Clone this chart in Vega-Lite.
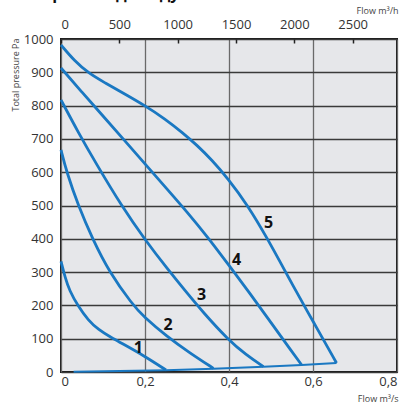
{
  "$schema": "https://vega.github.io/schema/vega-lite/v6.json",
  "width": 336,
  "height": 333,
  "autosize": {"type": "none"},
  "padding": {"left": 61, "top": 39, "right": 11, "bottom": 33},
  "background": "white",
  "config": {
    "font": "Open Sans",
    "view": {"fill": "#e6e7ea", "stroke": "#1a1a1a", "strokeWidth": 2}
  },
  "title": {
    "text": "Напор/Расход воздуха",
    "anchor": "start",
    "frame": "group",
    "dx": -51,
    "fontSize": 16,
    "fontWeight": "bold",
    "font": "Open Sans",
    "color": "#111111"
  },
  "datasets": {
    "curves": [
      {"series": "1", "q": 0.0, "p": 332},
      {"series": "1", "q": 0.01, "p": 283},
      {"series": "1", "q": 0.02, "p": 245},
      {"series": "1", "q": 0.041, "p": 197},
      {"series": "1", "q": 0.065, "p": 155},
      {"series": "1", "q": 0.089, "p": 127},
      {"series": "1", "q": 0.12, "p": 103},
      {"series": "1", "q": 0.145, "p": 86},
      {"series": "1", "q": 0.2, "p": 47},
      {"series": "1", "q": 0.25, "p": 6},
      {"series": "2", "q": 0.0, "p": 667},
      {"series": "2", "q": 0.0135, "p": 600},
      {"series": "2", "q": 0.041, "p": 500},
      {"series": "2", "q": 0.075, "p": 400},
      {"series": "2", "q": 0.115, "p": 300},
      {"series": "2", "q": 0.17, "p": 203},
      {"series": "2", "q": 0.196, "p": 167},
      {"series": "2", "q": 0.252, "p": 107},
      {"series": "2", "q": 0.307, "p": 57},
      {"series": "2", "q": 0.363, "p": 11},
      {"series": "3", "q": 0.0, "p": 817},
      {"series": "3", "q": 0.04, "p": 722},
      {"series": "3", "q": 0.083, "p": 627},
      {"series": "3", "q": 0.145, "p": 497},
      {"series": "3", "q": 0.2, "p": 397},
      {"series": "3", "q": 0.255, "p": 307},
      {"series": "3", "q": 0.295, "p": 245},
      {"series": "3", "q": 0.339, "p": 178},
      {"series": "3", "q": 0.398, "p": 97},
      {"series": "3", "q": 0.44, "p": 52},
      {"series": "3", "q": 0.482, "p": 16},
      {"series": "4", "q": 0.0, "p": 913},
      {"series": "4", "q": 0.05, "p": 840},
      {"series": "4", "q": 0.1, "p": 769},
      {"series": "4", "q": 0.15, "p": 697},
      {"series": "4", "q": 0.2, "p": 625},
      {"series": "4", "q": 0.25, "p": 553},
      {"series": "4", "q": 0.3, "p": 481},
      {"series": "4", "q": 0.35, "p": 404},
      {"series": "4", "q": 0.4, "p": 320},
      {"series": "4", "q": 0.45, "p": 236},
      {"series": "4", "q": 0.5, "p": 148},
      {"series": "4", "q": 0.55, "p": 61},
      {"series": "4", "q": 0.573, "p": 21},
      {"series": "5", "q": 0.0, "p": 982},
      {"series": "5", "q": 0.033, "p": 933},
      {"series": "5", "q": 0.065, "p": 898},
      {"series": "5", "q": 0.105, "p": 868},
      {"series": "5", "q": 0.145, "p": 840},
      {"series": "5", "q": 0.2, "p": 800},
      {"series": "5", "q": 0.248, "p": 760},
      {"series": "5", "q": 0.29, "p": 718},
      {"series": "5", "q": 0.323, "p": 682},
      {"series": "5", "q": 0.359, "p": 637},
      {"series": "5", "q": 0.398, "p": 580},
      {"series": "5", "q": 0.442, "p": 505},
      {"series": "5", "q": 0.49, "p": 405},
      {"series": "5", "q": 0.554, "p": 255},
      {"series": "5", "q": 0.601, "p": 150},
      {"series": "5", "q": 0.656, "p": 27}
    ],
    "system": [
      {"q": 0.03, "p": 1},
      {"q": 0.25, "p": 5},
      {"q": 0.363, "p": 10},
      {"q": 0.482, "p": 16},
      {"q": 0.573, "p": 21},
      {"q": 0.656, "p": 27}
    ],
    "labels": [
      {"label": "1", "q": 0.184, "p": 72},
      {"label": "2", "q": 0.255, "p": 142},
      {"label": "3", "q": 0.335, "p": 232},
      {"label": "4", "q": 0.418, "p": 337},
      {"label": "5", "q": 0.494, "p": 447}
    ],
    "topaxis": [{"qh": 0}, {"qh": 2880}]
  },
  "layer": [
    {
      "data": {"name": "topaxis"},
      "mark": {"type": "point", "opacity": 0},
      "encoding": {
        "x": {
          "field": "qh",
          "type": "quantitative",
          "scale": {"domain": [0, 2880], "nice": false},
          "axis": {
            "orient": "top",
            "values": [0, 500, 1000, 1500, 2000, 2500],
            "format": "d",
            "labelOverlap": false,
            "grid": false,
            "domain": false,
            "ticks": true,
            "tickSize": -4,
            "tickColor": "#222222",
            "tickWidth": 1.5,
            "labelPadding": 12,
            "labelFontSize": 13,
            "labelColor": "#333333",
            "labelFont": "Open Sans",
            "title": "Flow m³/h",
            "titleFont": "Open Sans",
            "titleFontSize": 9,
            "titleFontWeight": "normal",
            "titleColor": "#444444",
            "titleX": 337,
            "titleY": -29,
            "titleAlign": "right",
            "titleBaseline": "middle"
          }
        }
      }
    },
    {
      "encoding": {
        "x": {
          "field": "q",
          "type": "quantitative",
          "scale": {"domain": [0, 0.8], "nice": false},
          "axis": {
            "orient": "bottom",
            "values": [0, 0.2, 0.4, 0.6, 0.8],
            "labelExpr": "replace(format(datum.value, '.1~f'), '.', ',')",
            "labelOverlap": false,
            "grid": true,
            "gridColor": "#6a6a6a",
            "gridWidth": 1.3,
            "domain": false,
            "ticks": false,
            "labelPadding": 3,
            "labelFontSize": 13,
            "labelColor": "#333333",
            "labelFont": "Open Sans",
            "title": "Flow m³/s",
            "titleFont": "Open Sans",
            "titleFontSize": 9,
            "titleFontWeight": "normal",
            "titleColor": "#444444",
            "titleX": 337,
            "titleY": 26,
            "titleAlign": "right",
            "titleBaseline": "middle"
          }
        },
        "y": {
          "field": "p",
          "type": "quantitative",
          "scale": {"domain": [0, 1000], "nice": false},
          "axis": {
            "values": [0, 100, 200, 300, 400, 500, 600, 700, 800, 900, 1000],
            "format": "d",
            "labelOverlap": false,
            "grid": true,
            "gridColor": "#3a3a3a",
            "gridWidth": 1.3,
            "domain": false,
            "ticks": false,
            "labelPadding": 8,
            "labelFontSize": 13,
            "labelColor": "#333333",
            "labelFont": "Open Sans",
            "title": "Total pressure Pa",
            "titleFont": "Open Sans",
            "titleFontSize": 9,
            "titleFontWeight": "normal",
            "titleColor": "#444444",
            "titleAngle": -90,
            "titleX": -43,
            "titleY": -1,
            "titleAlign": "right",
            "titleBaseline": "alphabetic"
          }
        }
      },
      "layer": [
        {
          "data": {"name": "curves"},
          "mark": {"type": "line", "interpolate": "basis", "strokeWidth": 2.8, "color": "#1a78c2"},
          "encoding": {"detail": {"field": "series", "type": "nominal"}}
        },
        {
          "data": {"name": "system"},
          "mark": {"type": "line", "interpolate": "linear", "strokeWidth": 2, "color": "#1a78c2"},
          "encoding": {}
        },
        {
          "data": {"name": "labels"},
          "mark": {"type": "text", "fontSize": 16, "fontWeight": "bold", "font": "Open Sans", "color": "#111111", "align": "center", "baseline": "middle"},
          "encoding": {"text": {"field": "label", "type": "nominal"}}
        }
      ]
    }
  ],
  "resolve": {"scale": {"x": "independent"}, "axis": {"x": "independent"}}
}
